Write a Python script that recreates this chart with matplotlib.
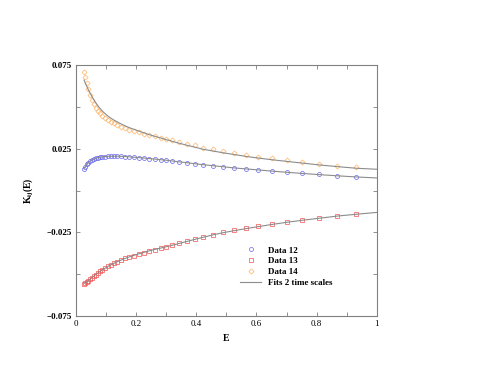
import matplotlib
matplotlib.use("Agg")
import matplotlib.pyplot as plt
from matplotlib.legend_handler import HandlerLine2D
from matplotlib.ticker import MultipleLocator, FixedLocator

plt.rcParams['font.family'] = ['Liberation Serif', 'DejaVu Serif']
plt.rcParams['mathtext.fontset'] = 'custom'
plt.rcParams['mathtext.rm'] = 'Liberation Serif:bold'
plt.rcParams['mathtext.it'] = 'Liberation Serif:bold'

# energy grid of the measured points
E = [0.027, 0.031, 0.036, 0.041, 0.047, 0.053, 0.059, 0.066, 0.073, 0.080,
     0.088, 0.097, 0.106, 0.116, 0.127, 0.138, 0.150, 0.163, 0.177, 0.192,
     0.208, 0.225, 0.243, 0.262, 0.282, 0.300, 0.318, 0.344, 0.370, 0.395,
     0.424, 0.456, 0.490, 0.526, 0.565, 0.606, 0.651, 0.701, 0.752, 0.808,
     0.868, 0.932]

data12 = [0.0130, 0.0143, 0.0156, 0.0166, 0.0175, 0.0182, 0.0187, 0.0192, 0.0196, 0.0199,
          0.0201, 0.0203, 0.0204, 0.0205, 0.0205, 0.0205, 0.0204, 0.0203, 0.0201, 0.0199,
          0.0197, 0.0194, 0.0191, 0.0188, 0.0184, 0.0181, 0.0177, 0.0171, 0.0165, 0.0160,
          0.0154, 0.0148, 0.0141, 0.0135, 0.0129, 0.0123, 0.0117, 0.0109, 0.0102, 0.0096,
          0.0089, 0.0080]

data13 = [-0.0557, -0.0553, -0.0547, -0.0540, -0.0531, -0.0522, -0.0513, -0.0503, -0.0493, -0.0484,
          -0.0474, -0.0463, -0.0453, -0.0443, -0.0434, -0.0425, -0.0416, -0.0406, -0.0397, -0.0389,
          -0.0380, -0.0371, -0.0362, -0.0353, -0.0344, -0.0336, -0.0328, -0.0316, -0.0303, -0.0291,
          -0.0277, -0.0263, -0.0250, -0.0239, -0.0227, -0.0215, -0.0202, -0.0190, -0.0178, -0.0165,
          -0.0153, -0.0141]

data14 = [0.0710, 0.0680, 0.0645, 0.0605, 0.0568, 0.0540, 0.0517, 0.0496, 0.0478, 0.0462,
          0.0448, 0.0435, 0.0423, 0.0412, 0.0402, 0.0391, 0.0380, 0.0372, 0.0364, 0.0356,
          0.0349, 0.0340, 0.0332, 0.0324, 0.0316, 0.0308, 0.0301, 0.0290, 0.0279, 0.0269,
          0.0256, 0.0246, 0.0236, 0.0226, 0.0214, 0.0202, 0.0192, 0.0182, 0.0172, 0.0160,
          0.0148, 0.0138]

# fits (2 time scales), same grid plus E = 1
E_fit = E + [1.0]

fit12 = [0.0131, 0.0143, 0.0156, 0.0166, 0.0175, 0.0182, 0.0187, 0.0192, 0.0196, 0.0199,
         0.0201, 0.0203, 0.0204, 0.0205, 0.0205, 0.0205, 0.0204, 0.0203, 0.0201, 0.0199,
         0.0197, 0.0194, 0.0191, 0.0188, 0.0184, 0.0181, 0.0177, 0.0171, 0.0166, 0.0160,
         0.0154, 0.0148, 0.0142, 0.0135, 0.0129, 0.0123, 0.0116, 0.0109, 0.0102, 0.0095,
         0.0088, 0.0081, 0.0075]

fit13 = [-0.0555, -0.0551, -0.0545, -0.0538, -0.0530, -0.0521, -0.0512, -0.0502, -0.0493, -0.0484,
         -0.0474, -0.0464, -0.0454, -0.0444, -0.0434, -0.0425, -0.0416, -0.0406, -0.0397, -0.0388,
         -0.0379, -0.0370, -0.0361, -0.0352, -0.0344, -0.0336, -0.0328, -0.0316, -0.0304, -0.0292,
         -0.0279, -0.0265, -0.0252, -0.0240, -0.0228, -0.0216, -0.0203, -0.0190, -0.0178, -0.0166,
         -0.0153, -0.0142, -0.0131]

fit14 = [0.0660, 0.0642, 0.0622, 0.0603, 0.0582, 0.0562, 0.0543, 0.0524, 0.0506, 0.0490,
         0.0474, 0.0459, 0.0445, 0.0432, 0.0420, 0.0409, 0.0398, 0.0387, 0.0376, 0.0366,
         0.0356, 0.0345, 0.0334, 0.0324, 0.0314, 0.0304, 0.0295, 0.0282, 0.0270, 0.0259,
         0.0246, 0.0236, 0.0225, 0.0215, 0.0204, 0.0194, 0.0184, 0.0174, 0.0164, 0.0153,
         0.0143, 0.0133, 0.0127]

xticks = [0, 0.2, 0.4, 0.6, 0.8, 1]
xticklabels = ['0', '0.2', '0.4', '0.6', '0.8', '1']
yticks = [-0.075, -0.025, 0.025, 0.075]
yticklabels = ['\u22120.075', '\u22120.025', '0.025', '0.075']


class RightMarker(HandlerLine2D):
    # put the marker at the right end of the handle, like the original
    def get_xdata(self, legend, xdescent, ydescent, width, height, fontsize):
        xdata = [-xdescent, -xdescent + width]
        return xdata, [-xdescent + width - 1.5]


fig = plt.figure(figsize=(4.94, 3.82), dpi=100)
ax = fig.add_axes([0.1538, 0.1728, 0.6088, 0.657])

ax.plot(E, data12, ls='none', marker='o', ms=2.9, mfc='none', mec='#6464ee', mew=0.5, label='Data 12')
ax.plot(E, data13, ls='none', marker='s', ms=2.5, mfc='none', mec='#f25050', mew=0.5, label='Data 13')
ax.plot(E, data14, ls='none', marker='D', ms=2.6, mfc='none', mec='#ffb464', mew=0.5, label='Data 14')
ax.plot(E_fit, fit12, color='#8c8c8c', lw=0.8, label='Fits 2 time scales')
ax.plot(E_fit, fit13, color='#8c8c8c', lw=0.8)
ax.plot(E_fit, fit14, color='#8c8c8c', lw=0.8)

ax.set_xlim(0, 1)
ax.set_ylim(-0.075, 0.075)
ax.xaxis.set_major_locator(FixedLocator(xticks))
ax.set_xticklabels(xticklabels, fontsize=6.5)
ax.xaxis.set_minor_locator(MultipleLocator(0.1))
ax.yaxis.set_major_locator(FixedLocator(yticks))
ax.set_yticklabels(yticklabels, fontsize=6.5, fontweight='bold')
ax.yaxis.set_minor_locator(MultipleLocator(0.025))
ax.tick_params(which='both', direction='in', top=True, right=True,
               length=3, width=0.6, color='#808080', pad=3)
for s in ax.spines.values():
    s.set_color('#808080')
    s.set_linewidth(0.8)

ax.set_xlabel('E', fontsize=7, fontweight='bold', labelpad=4)
ax.set_ylabel(r'K$_{\mathrm{ij}}$(E)', fontsize=7, fontweight='bold', labelpad=8)

ax.legend(loc='upper left', bbox_to_anchor=(0.52, 0.31), frameon=False,
          prop={'weight': 'bold', 'size': 6.5},
          handlelength=2.3, handletextpad=0.8, labelspacing=0.28,
          handler_map={plt.Line2D: RightMarker()})

fig.savefig('out.png', dpi=100)
